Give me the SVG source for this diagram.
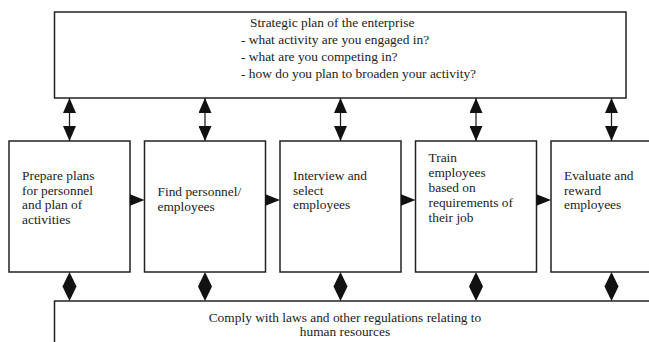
<svg xmlns="http://www.w3.org/2000/svg" width="649" height="342" viewBox="0 0 649 342">
<defs>
<style>
.box{fill:#fff;stroke:#222;stroke-width:1.5}
.t{font-family:"Liberation Serif","Times New Roman",serif;font-size:13.4px;fill:#222}
.c{stroke:#222;stroke-width:1.3;fill:none}
.head{fill:#111}
</style>
<marker id="tri" viewBox="0 0 15 13" refX="15" refY="6.5" markerWidth="15" markerHeight="13" markerUnits="userSpaceOnUse" orient="auto-start-reverse">
<path d="M0,0 L15,6.5 L0,13 z" fill="#111"/>
</marker>
</defs>
<rect width="649" height="342" fill="#fff"/>

<g id="strategic-plan">
<rect class="box" x="54.5" y="12" width="571.5" height="86"/>
<text class="t" x="250" y="26.5">Strategic plan of the enterprise</text>
<text class="t" x="241" y="44">- what activity are you engaged in?</text>
<text class="t" x="241" y="61">- what are you competing in?</text>
<text class="t" x="241" y="77.5">- how do you plan to broaden your activity?</text>
</g>

<g id="prepare-plans">
<rect class="box" x="9" y="141" width="121" height="131"/>
<text class="t" x="22" y="179.5">Prepare plans</text>
<text class="t" x="22" y="194.5">for personnel</text>
<text class="t" x="22" y="209">and plan of</text>
<text class="t" x="22" y="224">activities</text>
</g>

<g id="find-personnel">
<rect class="box" x="144.5" y="141" width="121" height="131"/>
<text class="t" x="157.5" y="196">Find personnel/</text>
<text class="t" x="157.5" y="211">employees</text>
</g>

<g id="interview-select">
<rect class="box" x="280" y="141" width="121" height="131"/>
<text class="t" x="293" y="179.5">Interview and</text>
<text class="t" x="293" y="194.5">select</text>
<text class="t" x="293" y="209">employees</text>
</g>

<g id="train-employees">
<rect class="box" x="415.5" y="141" width="121" height="131"/>
<text class="t" x="428.5" y="161.5">Train</text>
<text class="t" x="428.5" y="176.5">employees</text>
<text class="t" x="428.5" y="191.5">based on</text>
<text class="t" x="428.5" y="206.5">requirements of</text>
<text class="t" x="428.5" y="221.5">their job</text>
</g>

<g id="evaluate-reward">
<rect class="box" x="551" y="141" width="121" height="131"/>
<text class="t" x="564" y="179.5">Evaluate and</text>
<text class="t" x="564" y="194.5">reward</text>
<text class="t" x="564" y="209">employees</text>
</g>

<g id="comply-laws">
<rect class="box" x="54.5" y="301" width="700" height="100"/>
<text class="t" x="345" y="322" text-anchor="middle">Comply with laws and other regulations relating to</text>
<text class="t" x="345" y="335.5" text-anchor="middle">human resources</text>
</g>

<g id="connectors">
<line class="c" x1="69.5" y1="98" x2="69.5" y2="141" marker-start="url(#tri)" marker-end="url(#tri)"/>
<line class="c" x1="205" y1="98" x2="205" y2="141" marker-start="url(#tri)" marker-end="url(#tri)"/>
<line class="c" x1="340.5" y1="98" x2="340.5" y2="141" marker-start="url(#tri)" marker-end="url(#tri)"/>
<line class="c" x1="476" y1="98" x2="476" y2="141" marker-start="url(#tri)" marker-end="url(#tri)"/>
<line class="c" x1="611.5" y1="98" x2="611.5" y2="141" marker-start="url(#tri)" marker-end="url(#tri)"/>

<polygon class="head" points="130,194.3 144.5,200 130,205.7"/>
<polygon class="head" points="265.5,194.3 280,200 265.5,205.7"/>
<polygon class="head" points="401,194.3 415.5,200 401,205.7"/>
<polygon class="head" points="536.5,194.3 551,200 536.5,205.7"/>

<polygon class="head" points="69.5,272 76.5,286.5 69.5,301 62.5,286.5"/>
<polygon class="head" points="205,272 212,286.5 205,301 198,286.5"/>
<polygon class="head" points="340.5,272 347.5,286.5 340.5,301 333.5,286.5"/>
<polygon class="head" points="476,272 483,286.5 476,301 469,286.5"/>
<polygon class="head" points="611.5,272 618.5,286.5 611.5,301 604.5,286.5"/>
</g>
</svg>
